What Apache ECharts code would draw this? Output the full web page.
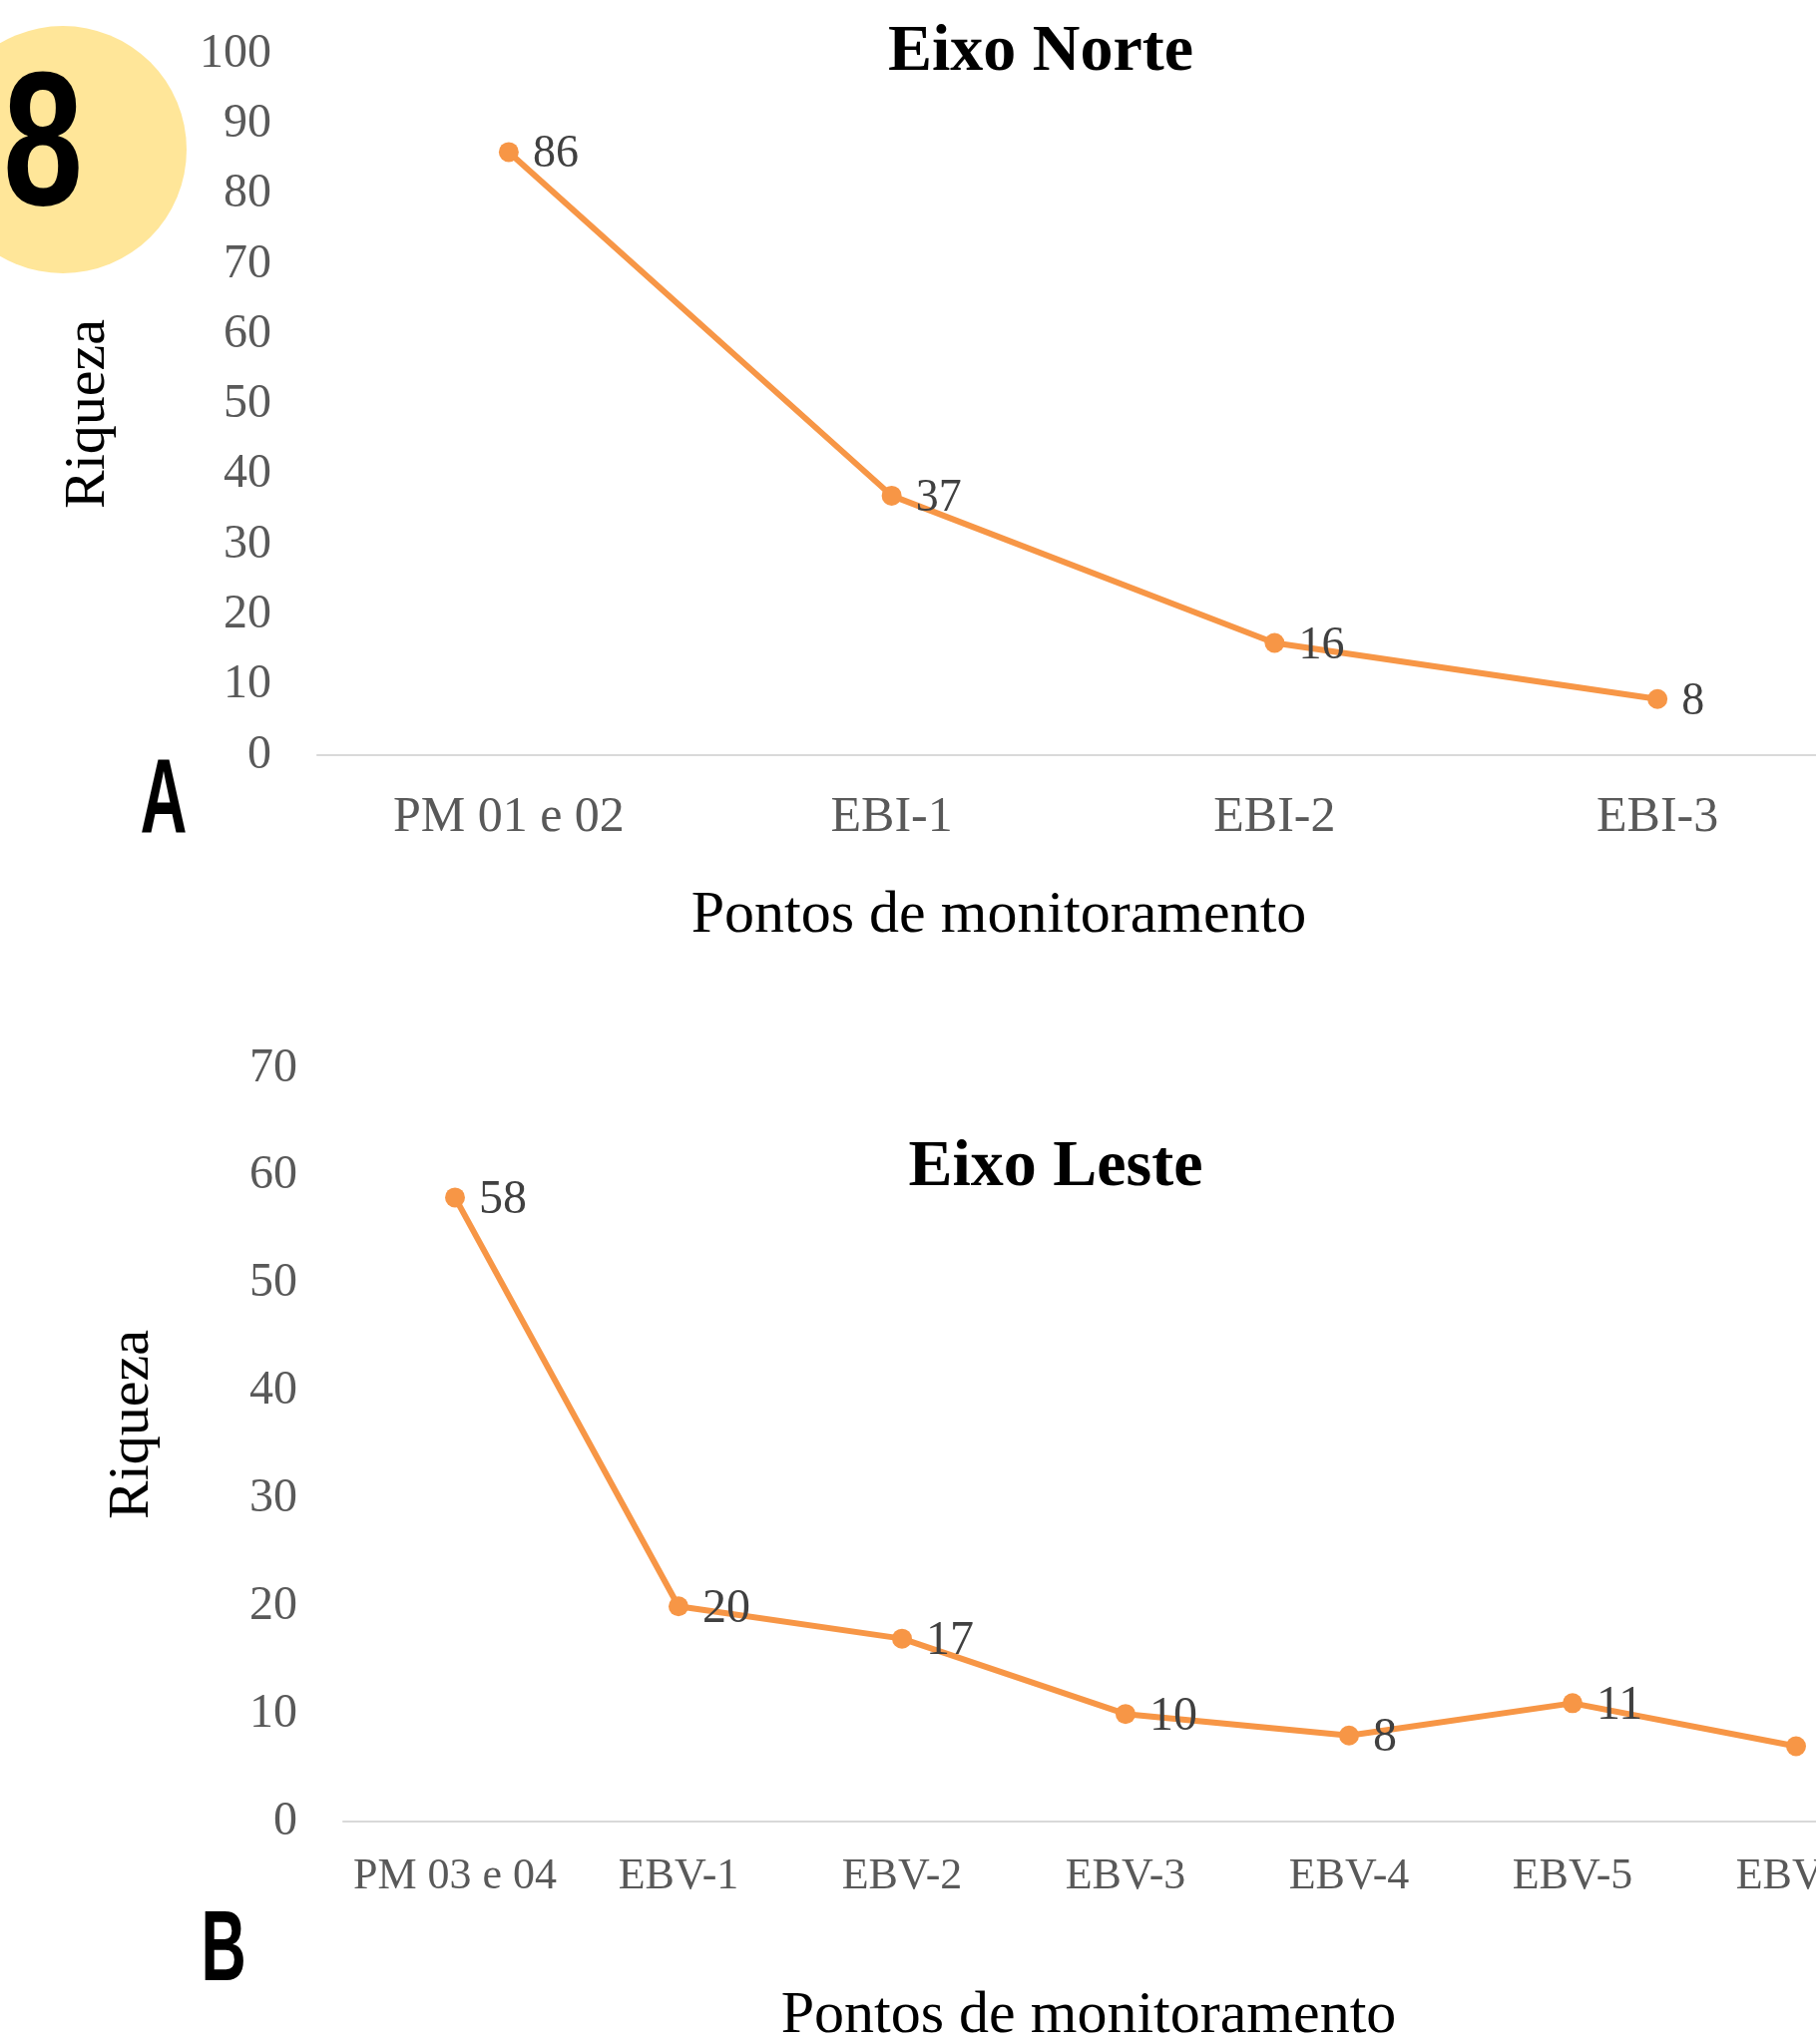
<!DOCTYPE html>
<html>
<head>
<meta charset="utf-8">
<script src="https://cdn.jsdelivr.net/npm/echarts@6/dist/echarts.min.js"></script>
<style>
html,body{margin:0;padding:0;background:#fff;}
#c{width:1820px;height:2049px;}
</style>
</head>
<body>
<div id="c"></div>
<script>
// Data
const catsNorte = ['PM 01 e 02', 'EBI-1', 'EBI-2', 'EBI-3'];
const valsNorte = [86, 37, 16, 8];
const catsLeste = ['PM 03 e 04', 'EBV-1', 'EBV-2', 'EBV-3', 'EBV-4', 'EBV-5', 'EBV-6'];
const valsLeste = [58, 20, 17, 10, 8, 11, 7];
const titleNorte = 'Eixo Norte';
const titleLeste = 'Eixo Leste';
const xName = 'Pontos de monitoramento';
const yName = 'Riqueza';

const SERIF = '"Liberation Serif", "Times New Roman", serif';
const ORANGE = '#F79646';

const chart = echarts.init(document.getElementById('c'), null, {renderer: 'canvas'});

function txt(text, x, y, size, opts) {
  opts = opts || {};
  return {
    type: 'text', x: x, y: y, rotation: opts.rotation || 0,
    scaleX: opts.scaleX || 1, scaleY: 1,
    z: 100,
    style: {
      text: text, x: 0, y: 0,
      fontSize: size, fontFamily: opts.family || SERIF,
      fontWeight: opts.weight || 'normal',
      fill: opts.color || '#000',
      align: 'center', verticalAlign: 'middle'
    }
  };
}

const CONDENSED = '"Liberation Sans Narrow", "Liberation Sans", Arial, sans-serif';

function xAxisCfg(idx, data, size, margin) {
  return {
    type: 'category', gridIndex: idx, data: data, boundaryGap: true,
    axisLine: {show: true, lineStyle: {color: '#D9D9D9', width: 2}},
    axisTick: {show: false},
    axisLabel: {interval: 0, margin: margin, fontSize: size, fontFamily: SERIF, color: '#595959'},
    splitLine: {show: false}
  };
}
function yAxisCfg(idx, max) {
  return {
    type: 'value', gridIndex: idx, min: 0, max: max, interval: 10,
    axisLine: {show: false}, axisTick: {show: false},
    splitLine: {show: false},
    axisLabel: {margin: 46, fontSize: 48, fontFamily: SERIF, color: '#595959'}
  };
}
function seriesCfg(idx, data, lblSize) {
  return {
    type: 'line', xAxisIndex: idx, yAxisIndex: idx, data: data,
    symbol: 'circle', symbolSize: 20,
    lineStyle: {color: ORANGE, width: 6},
    itemStyle: {color: ORANGE},
    label: {show: true, position: 'right', distance: 14, offset: [0, 3], fontSize: lblSize, fontFamily: SERIF, color: '#404040'},
    animation: false
  };
}

chart.setOption({
  animation: false,
  grid: [
    {left: 318, top: 54, width: 1535, height: 703, outerBoundsMode: 'none', containLabel: false},
    {left: 344, top: 1071, width: 1568, height: 755, outerBoundsMode: 'none', containLabel: false}
  ],
  xAxis: [xAxisCfg(0, catsNorte, 50, 38), xAxisCfg(1, catsLeste, 44, 33)],
  yAxis: [yAxisCfg(0, 100), yAxisCfg(1, 70)],
  series: [seriesCfg(0, valsNorte, 46), seriesCfg(1, valsLeste, 48)],
  graphic: [
    {type: 'circle', shape: {cx: 63, cy: 150, r: 124}, style: {fill: '#FFE699'}, z: 1},
    txt('8', 43, 152, 192, {weight: 'bold', family: CONDENSED, scaleX: 0.75}),
    txt('A', 164, 806, 105, {weight: 'bold', family: CONDENSED, scaleX: 0.62}),
    txt('B', 224, 1957, 101, {weight: 'bold', family: CONDENSED, scaleX: 0.62}),
    txt(titleNorte, 1043, 53, 66, {weight: 'bold'}),
    txt(titleLeste, 1058, 1171, 66, {weight: 'bold'}),
    txt(yName, 89, 415, 58, {rotation: Math.PI / 2}),
    txt(yName, 133, 1428, 58, {rotation: Math.PI / 2}),
    txt(xName, 1001, 918, 60),
    txt(xName, 1091, 2021, 60)
  ]
});
</script>
</body>
</html>
